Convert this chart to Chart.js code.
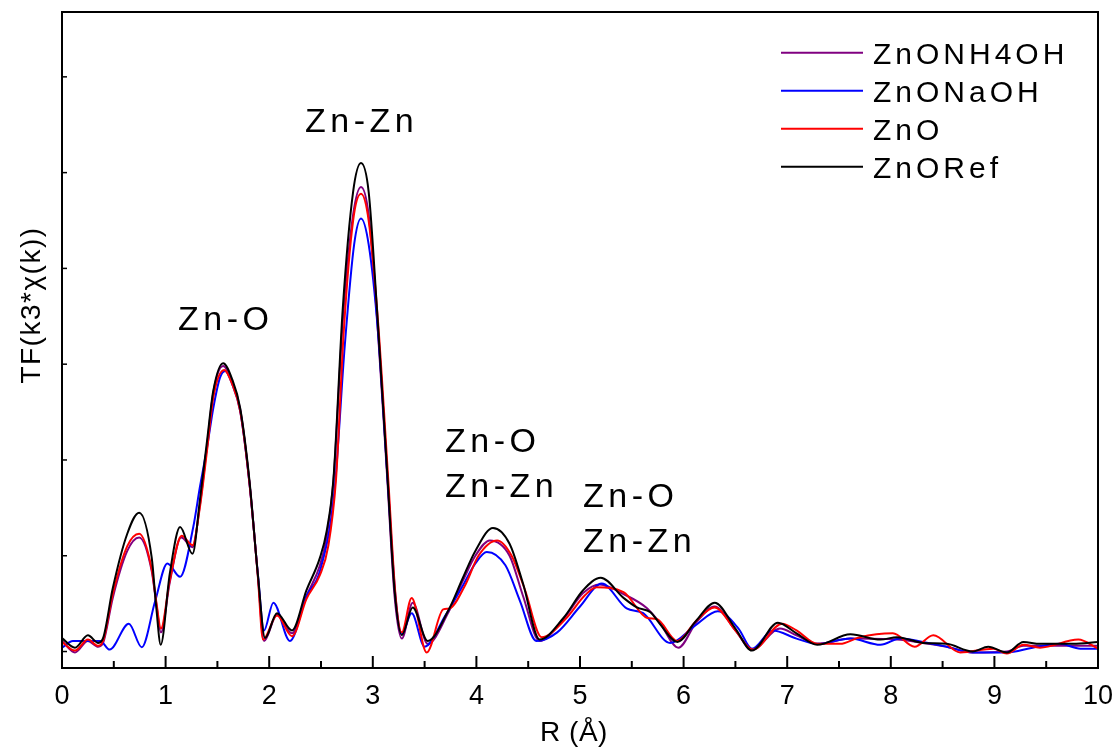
<!DOCTYPE html>
<html>
<head>
<meta charset="utf-8">
<script src="https://cdn.jsdelivr.net/npm/chart.js@4/dist/chart.umd.min.js"></script>
<style>
  html, body { margin: 0; padding: 0; background: #fff; overflow: hidden; }
  canvas { display: block; }
</style>
</head>
<body>
<canvas id="c" width="1115" height="747"></canvas>
<script>
// ---- Data (R in Å, FT magnitude in arbitrary units) ----
const SERIES_NAMES = ['ZnONH4OH', 'ZnONaOH', 'ZnO', 'ZnORef'];
const SERIES_COLORS = ['#800080', '#0000ff', '#ff0000', '#000000'];

const R_NH4OH = [0,0.125,0.25,0.35,0.40,0.49,0.63,0.745,0.866,0.91,0.955,1.04,1.15,1.26,1.33,1.40,1.46,1.555,1.64,1.72,1.81,1.89,1.95,2.075,2.22,2.36,2.49,2.555,2.62,2.71,2.81,2.886,2.96,3.04,3.14,3.21,3.28,3.385,3.53,3.73,3.87,3.99,4.13,4.32,4.45,4.61,4.84,5.03,5.19,5.42,5.65,5.77,5.95,6.12,6.30,6.50,6.66,6.93,7.09,7.29,7.61,8.06,8.31,8.54,8.79,9.12,9.28,9.63,10];
const V_NH4OH = [0.11,-0.01,0.11,0.05,0.10,0.56,1.05,1.19,0.84,0.50,0.20,0.72,1.19,1.09,1.52,2.15,2.70,2.98,2.82,2.53,1.76,0.80,0.11,0.385,0.19,0.58,0.90,1.20,1.78,3.45,4.56,4.85,4.56,3.50,1.80,0.58,0.135,0.51,0.08,0.41,0.74,1.00,1.16,1.00,0.58,0.11,0.34,0.61,0.70,0.60,0.45,0.30,0.04,0.30,0.47,0.22,0.02,0.24,0.17,0.08,0.135,0.125,0.09,0.05,-0.01,0.00,0.06,0.06,0.06];

const R_NAOH = [0,0.105,0.37,0.46,0.645,0.77,0.90,1.017,1.14,1.267,1.33,1.40,1.46,1.525,1.575,1.64,1.72,1.81,1.89,1.95,2.04,2.20,2.36,2.49,2.63,2.73,2.82,2.886,2.96,3.05,3.15,3.22,3.28,3.375,3.50,3.70,3.87,3.99,4.10,4.28,4.42,4.58,4.78,5.00,5.21,5.45,5.61,5.87,6.11,6.33,6.53,6.66,6.86,7.09,7.29,7.61,7.90,8.09,8.31,8.54,8.79,9.12,9.37,9.63,9.83,10];
const V_NAOH = [0.04,0.11,0.11,0.02,0.29,0.045,0.53,0.92,0.78,1.30,1.71,2.13,2.54,2.86,2.93,2.80,2.51,1.75,0.82,0.22,0.51,0.11,0.58,0.84,1.68,3.20,4.25,4.52,4.25,3.34,1.68,0.56,0.18,0.40,0.05,0.375,0.69,0.92,1.04,0.90,0.53,0.11,0.20,0.47,0.71,0.45,0.40,0.09,0.27,0.42,0.24,0.03,0.22,0.135,0.08,0.135,0.07,0.135,0.10,0.05,-0.01,-0.01,0.04,0.08,0.03,0.03];

const R_ZNO = [0,0.125,0.25,0.35,0.40,0.49,0.63,0.745,0.866,0.91,0.955,1.04,1.155,1.26,1.33,1.40,1.46,1.565,1.64,1.72,1.81,1.89,1.94,2.075,2.22,2.36,2.49,2.57,2.645,2.72,2.81,2.886,2.96,3.05,3.15,3.22,3.28,3.375,3.52,3.68,3.74,3.89,4.02,4.20,4.34,4.47,4.63,4.86,5.05,5.16,5.42,5.65,5.74,5.94,6.12,6.30,6.50,6.67,6.95,7.09,7.29,7.51,7.70,8.02,8.23,8.41,8.67,8.99,9.12,9.28,9.44,9.81,10];
const V_ZNO = [0.10,0.01,0.125,0.06,0.12,0.60,1.10,1.23,0.86,0.52,0.24,0.74,1.21,1.11,1.50,2.10,2.65,2.94,2.80,2.51,1.75,0.79,0.125,0.375,0.16,0.55,0.80,1.10,1.80,3.35,4.50,4.78,4.50,3.45,1.78,0.58,0.20,0.56,-0.01,0.44,0.45,0.69,1.00,1.16,1.00,0.64,0.15,0.34,0.59,0.67,0.62,0.35,0.34,0.11,0.32,0.46,0.22,0.02,0.29,0.22,0.08,0.08,0.15,0.19,0.05,0.17,-0.01,0.03,-0.02,0.07,0.04,0.125,0.03];

const R_REF = [0,0.125,0.25,0.35,0.40,0.49,0.63,0.745,0.866,0.91,0.953,1.04,1.14,1.26,1.33,1.40,1.46,1.555,1.64,1.72,1.81,1.89,1.96,2.075,2.22,2.36,2.49,2.555,2.62,2.71,2.81,2.886,2.96,3.04,3.14,3.21,3.28,3.385,3.53,3.73,3.87,3.99,4.16,4.32,4.45,4.61,4.84,5.03,5.20,5.42,5.55,5.68,5.77,5.94,6.12,6.30,6.50,6.66,6.91,7.09,7.29,7.61,7.90,8.06,8.31,8.54,8.79,8.94,9.12,9.28,9.44,9.76,10];
const V_REF = [0.14,0.04,0.17,0.09,0.15,0.66,1.23,1.45,0.98,0.46,0.07,0.81,1.30,1.02,1.57,2.20,2.72,3.01,2.85,2.54,1.78,0.81,0.14,0.40,0.22,0.64,0.98,1.26,1.80,3.58,4.80,5.10,4.80,3.58,1.85,0.64,0.17,0.46,0.11,0.43,0.77,1.05,1.29,1.125,0.71,0.125,0.35,0.64,0.77,0.56,0.46,0.41,0.29,0.10,0.32,0.51,0.24,0.01,0.30,0.19,0.07,0.18,0.125,0.15,0.09,0.08,0.00,0.05,-0.01,0.10,0.08,0.08,0.10];

const X_TICK_LABELS = ['0','1','2','3','4','5','6','7','8','9','10'];
const Y_TICK_VALUES = [0,1,2,3,4,5,6];

const PEAK_LABELS = ['Zn-O', 'Zn-Zn', 'Zn-O', 'Zn-Zn', 'Zn-O', 'Zn-Zn'];
const PEAK_LABEL_R = [1.12, 2.346, 3.697, 3.697, 5.029, 5.029];
const PEAK_LABEL_V = [3.356, 5.423, 2.082, 1.613, 1.508, 1.039];

const X_TITLE = 'R (Å)';
const Y_TITLE = 'TF(k3*χ(k))';

// ---- Build datasets ----
const RS = [R_NH4OH, R_NAOH, R_ZNO, R_REF];
const VS = [V_NH4OH, V_NAOH, V_ZNO, V_REF];
const DRAW_ORDER = [3, 2, 1, 0]; // lower = drawn on top (ZnORef on top)

const datasets = SERIES_NAMES.map((name, i) => ({
  label: name,
  data: RS[i].map((r, j) => ({ x: r, y: VS[i][j] })),
  borderColor: SERIES_COLORS[i],
  backgroundColor: SERIES_COLORS[i],
  borderWidth: 2,
  pointRadius: 0,
  fill: false,
  cubicInterpolationMode: 'monotone',
  order: DRAW_ORDER[i]
}));

const FONT = '"Liberation Sans", Arial, Helvetica, sans-serif';

function spacedText(ctx, text, x, y, spacing) {
  if ('letterSpacing' in ctx) {
    ctx.letterSpacing = spacing + 'px';
    ctx.fillText(text, x, y);
    ctx.letterSpacing = '0px';
  } else {
    ctx.fillText(text, x, y);
  }
}

const overlay = {
  id: 'overlay',
  afterDatasetsDraw(chart) {
    const { ctx, chartArea: a, scales } = chart;
    const xs = scales.x, ys = scales.y;
    ctx.save();
    ctx.strokeStyle = '#000';
    ctx.lineWidth = 2;
    ctx.strokeRect(a.left, a.top, a.right - a.left, a.bottom - a.top);

    // inner ticks on x axis (major + minor)
    for (let i = 0; i < X_TICK_LABELS.length; i++) {
      const v = Number(X_TICK_LABELS[i]);
      const px = xs.getPixelForValue(v);
      ctx.beginPath(); ctx.moveTo(px, a.bottom); ctx.lineTo(px, a.bottom - 12); ctx.stroke();
      if (i < X_TICK_LABELS.length - 1) {
        const pm = xs.getPixelForValue(v + 0.5);
        ctx.beginPath(); ctx.moveTo(pm, a.bottom); ctx.lineTo(pm, a.bottom - 7); ctx.stroke();
      }
    }
    // inner ticks on y axis
    ctx.lineWidth = 1.5;
    Y_TICK_VALUES.forEach(v => {
      const py = ys.getPixelForValue(v);
      ctx.beginPath(); ctx.moveTo(a.left, py); ctx.lineTo(a.left + 5, py); ctx.stroke();
    });

    // peak annotations
    ctx.fillStyle = '#000';
    ctx.font = '34px ' + FONT;
    ctx.textAlign = 'left';
    ctx.textBaseline = 'alphabetic';
    PEAK_LABELS.forEach((t, i) => {
      spacedText(ctx, t, xs.getPixelForValue(PEAK_LABEL_R[i]), ys.getPixelForValue(PEAK_LABEL_V[i]), 4.5);
    });

    // legend
    ctx.font = '30px ' + FONT;
    chart.data.datasets.forEach((ds, i) => {
      const ly = 52.7 + i * 38;
      ctx.strokeStyle = ds.borderColor;
      ctx.lineWidth = 2;
      ctx.beginPath(); ctx.moveTo(781, ly); ctx.lineTo(863, ly); ctx.stroke();
      ctx.fillStyle = '#000';
      spacedText(ctx, ds.label, 873, ly + 10.8, 4);
    });

    // axis titles
    ctx.fillStyle = '#000';
    ctx.font = '28px ' + FONT;
    ctx.textAlign = 'center';
    spacedText(ctx, X_TITLE, 574, 741, 0.5);

    ctx.save();
    ctx.translate(40, 305);
    ctx.rotate(-Math.PI / 2);
    ctx.font = '28px ' + FONT;
    ctx.textAlign = 'center';
    spacedText(ctx, Y_TITLE, 0, 0, 1.5);
    ctx.restore();

    ctx.restore();
  }
};

new Chart(document.getElementById('c'), {
  type: 'line',
  data: { datasets },
  options: {
    responsive: false,
    animation: false,
    devicePixelRatio: 1,
    layout: { padding: { top: 12, right: 17, left: 0, bottom: 0 } },
    plugins: { legend: { display: false }, tooltip: { enabled: false } },
    scales: {
      x: {
        type: 'linear',
        min: 0, max: 10,
        grid: { display: false, drawTicks: false },
        border: { display: false },
        ticks: {
          stepSize: 1,
          autoSkip: false,
          maxRotation: 0,
          padding: 12,
          color: '#000',
          font: { family: FONT, size: 27 },
          callback: (v) => X_TICK_LABELS[Math.round(v)] ?? ''
        },
        afterFit: (s) => { s.height = 79; s.paddingLeft = 0; s.paddingRight = 0; }
      },
      y: {
        min: -0.172, max: 6.677,
        grid: { display: false, drawTicks: false },
        border: { display: false },
        ticks: { display: false, stepSize: 1 },
        afterFit: (s) => { s.width = 62; }
      }
    }
  },
  plugins: [overlay]
});
</script>
</body>
</html>
